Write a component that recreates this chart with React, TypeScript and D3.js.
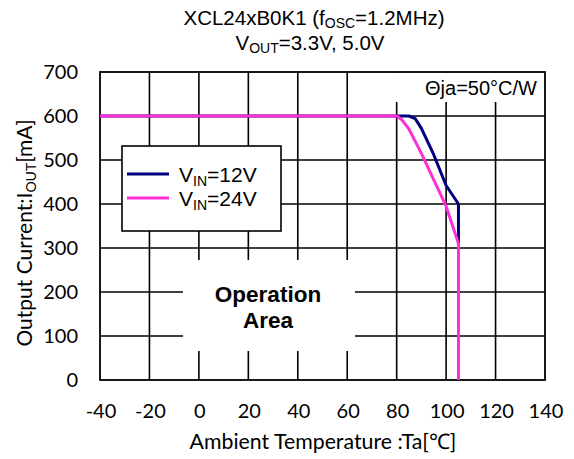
import React from "react";
import * as d3 from "d3";

const xTicks = [-40, -20, 0, 20, 40, 60, 80, 100, 120, 140];
const yTicks = [0, 100, 200, 300, 400, 500, 600, 700];

const vin12Temp = [-40, 85, 87.5, 90, 95, 100, 105, 105];
const vin12Curr = [600, 600, 594, 572, 512, 442, 400, 305];

const vin24Temp = [-40, 80, 82, 85, 90, 95, 100, 105, 105];
const vin24Curr = [600, 600, 592, 570, 515, 455, 395, 310, 0];

const W = 574, H = 459;
const L = 100, R = 545, T = 72, B = 380;

export default function App() {
  const x = d3.scaleLinear().domain([-40, 140]).range([L, R]);
  const y = d3.scaleLinear().domain([0, 700]).range([B, T]);
  const line = d3.line<[number, number]>().x(d => x(d[0])).y(d => y(d[1]));
  const d12 = line(vin12Temp.map((t, i) => [t, vin12Curr[i]] as [number, number])) || "";
  const d24 = line(vin24Temp.map((t, i) => [t, vin24Curr[i]] as [number, number])) || "";
  const arial = "'Liberation Sans', Arial, sans-serif";
  const lato = "Lato, 'Liberation Sans', sans-serif";
  return (
    <svg width={W} height={H} style={{ position: "absolute", left: 0, top: 0, background: "#fff" }}>
      <rect x={0} y={0} width={W} height={H} fill="#fff" />
      {/* title */}
      <text x={314} y={25} textAnchor="middle" fontFamily={arial} fontSize={20.5} fill="#000">
        XCL24xB0K1 (f<tspan fontSize={14} dy={3}>OSC</tspan><tspan dy={-3}>=1.2MHz)</tspan>
      </text>
      <text x={310} y={50} textAnchor="middle" fontFamily={arial} fontSize={20.5} fill="#000">
        V<tspan fontSize={14} dy={3}>OUT</tspan><tspan dy={-3}>=3.3V, 5.0V</tspan>
      </text>
      {/* grid */}
      {xTicks.slice(1, -1).map(t => (
        <line key={"gx" + t} x1={x(t)} x2={x(t)} y1={T} y2={B} stroke="#000" strokeWidth={1.6} />
      ))}
      {yTicks.slice(1, -1).map(t => (
        <line key={"gy" + t} x1={L} x2={R} y1={y(t)} y2={y(t)} stroke="#000" strokeWidth={1.6} />
      ))}
      {/* white masks */}
      <rect x={183} y={260} width={172} height={91} fill="#fff" />
      <rect x={392} y={T + 1} width={R - 392 - 1} height={29} fill="#fff" />
      <rect x={L} y={T} width={R - L} height={B - T} fill="none" stroke="#000" strokeWidth={1.8} />
      {/* curves */}
      <path d={d12} fill="none" stroke="#000080" strokeWidth={3} strokeLinejoin="round" />
      <path d={d24} fill="none" stroke="#ff2fd6" strokeWidth={3} strokeLinejoin="round" />
      {/* annotations */}
      <text x={268} y={302} textAnchor="middle" fontFamily={arial} fontSize={22.5} fontWeight="bold" fill="#000">Operation</text>
      <text x={268} y={328} textAnchor="middle" fontFamily={arial} fontSize={22.5} fontWeight="bold" fill="#000">Area</text>
      <text x={537} y={95} textAnchor="end" fontFamily={arial} fontSize={20} fill="#000">Θja=50°C/W</text>
      {/* legend */}
      <rect x={122} y={146} width={159} height={85} fill="#fff" stroke="#000" strokeWidth={1.6} />
      <line x1={127} x2={169} y1={174} y2={174} stroke="#000080" strokeWidth={3} />
      <line x1={127} x2={169} y1={198} y2={198} stroke="#ff2fd6" strokeWidth={3} />
      <text x={179} y={182} fontFamily={arial} fontSize={21} fill="#000">
        V<tspan fontSize={14} dy={4}>IN</tspan><tspan dy={-4}>=12V</tspan>
      </text>
      <text x={179} y={206} fontFamily={arial} fontSize={21} fill="#000">
        V<tspan fontSize={14} dy={4}>IN</tspan><tspan dy={-4}>=24V</tspan>
      </text>
      {/* axes labels */}
      {xTicks.map(t => (
        <text key={"xl" + t} x={x(t) + 1} y={418} textAnchor="middle" fontFamily={lato} fontSize={20} fill="#000">{t}</text>
      ))}
      {yTicks.map(t => (
        <text key={"yl" + t} x={78} y={y(t) + 7} textAnchor="end" fontFamily={lato} fontSize={20} fill="#000">{t}</text>
      ))}
      <text x={323} y={449} textAnchor="middle" fontFamily={lato} fontSize={21.3} fill="#000">Ambient Temperature :Ta[℃]</text>
      <text transform={`translate(32,233) rotate(-90)`} textAnchor="middle" fontFamily={lato} fontSize={21} fill="#000">
        Output Current:I<tspan fontSize={14} dy={4}>OUT</tspan><tspan dy={-4}>[mA]</tspan>
      </text>
    </svg>
  );
}
